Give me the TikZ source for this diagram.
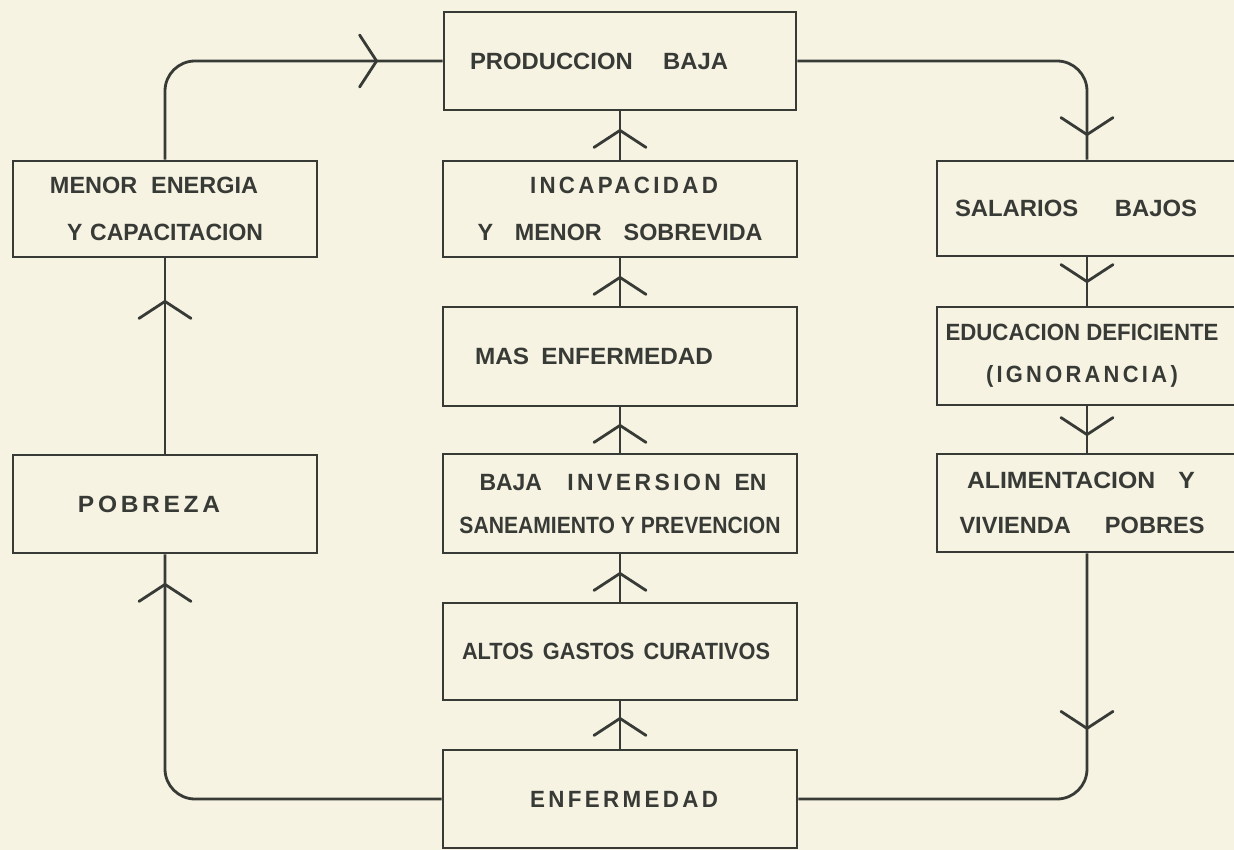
\documentclass[tikz,border=0pt]{standalone}
\usepackage{fontspec}
\setmainfont{Liberation Sans}
\newfontfamily\wideLS[LetterSpace=15]{Liberation Sans}
\usepackage{graphicx}
\usetikzlibrary{decorations.markings}
\definecolor{paper}{HTML}{F6F3E3}
\definecolor{ink}{HTML}{383A36}
% shifted, width-fitted text line
\newcommand\T[3]{\makebox[0pt][c]{\hspace*{#1pt}\hspace*{#1pt}\resizebox{#2pt}{\height}{#3}}}
\tikzset{
  box/.style={draw=ink, line width=2.8pt, rectangle, inner sep=0pt, text=ink,
    align=center, font=\fontsize{23.5}{27}\selectfont\bfseries},
  conn/.style={draw=ink, line width=2.8pt, rounded corners=30pt},
  chev/.style={postaction={decorate, decoration={markings,
    mark=at position #1 with {\draw[ink, line width=2.8pt, line cap=round, line join=round, sharp corners]
      (-17pt,26pt) -- (0pt,0pt) -- (-17pt,-26pt);}}}}
}
\begin{document}
\begin{tikzpicture}[x=1pt, y=-1pt]
\fill[paper] (0,0) rectangle (1234,850);
\useasboundingbox (0,0) rectangle (1234,850);

% centre column
\node[box, minimum width=352pt, minimum height=98pt] (prod) at (620,61)
  {\T{-21}{258}{PRODUCCION\hspace{30pt}BAJA}};
\node[box, minimum width=354pt, minimum height=96pt] (incap) at (620,209)
  {\T{4}{188}{\wideLS INCAPACIDAD}\\[20pt]\T{0}{285}{Y\hspace{22pt}MENOR\hspace{22pt}SOBREVIDA}};
\node[box, minimum width=354pt, minimum height=99pt] (mas) at (620,356.5)
  {\T{-26}{238}{MAS\hspace{12pt}ENFERMEDAD}};
\node[box, minimum width=354pt, minimum height=99pt] (baja) at (620,503.5)
  {\T{3}{287}{BAJA\hspace{26pt}{\wideLS INVERSION}\hspace{14pt}EN}\\[16pt]\T{0}{321}{SANEAMIENTO Y PREVENCION}};
\node[box, minimum width=354pt, minimum height=97pt] (altos) at (620,651.5)
  {\T{-4}{308}{ALTOS\hspace{10pt}GASTOS\hspace{10pt}CURATIVOS}};
\node[box, minimum width=354pt, minimum height=98pt] (enf) at (620,799)
  {\T{4}{188}{\wideLS ENFERMEDAD}};

% left column
\node[box, minimum width=304pt, minimum height=96pt] (menor) at (165,209)
  {\T{-11}{208}{MENOR\hspace{14pt}ENERGIA}\\[20pt]\T{0}{196}{Y\hspace{8pt}CAPACITACION}};
\node[box, minimum width=304pt, minimum height=98pt] (pobreza) at (165,504)
  {\T{-16}{142}{\wideLS POBREZA}};

% right column
\node[box, minimum width=300pt, minimum height=95pt] (salarios) at (1087,208.5)
  {\T{-11}{242}{SALARIOS\hspace{36pt}BAJOS}};
\node[box, minimum width=300pt, minimum height=98pt] (educ) at (1087,356)
  {\T{-5}{273}{EDUCACION DEFICIENTE}\\[15pt]\T{-5}{192}{\wideLS (IGNORANCIA\,)}};
\node[box, minimum width=300pt, minimum height=98pt] (alim) at (1087,503)
  {\T{-6}{228}{ALIMENTACION\hspace{22pt}Y}\\[18pt]\T{-5}{245}{VIVIENDA\hspace{34pt}POBRES}};

% outer loop
\draw[conn, chev=-30pt] (enf.west) -| (pobreza.south);
\draw[conn, chev=-43pt] (pobreza.north) -- (menor.south);
\draw[conn, chev=-66pt] (menor.north) |- (prod.west);
\draw[conn, chev=-25pt] (prod.east) -| (salarios.north);
\draw[conn, chev=-24pt] (salarios.south) -- (educ.north);
\draw[conn, chev=-18pt] (educ.south) -- (alim.north);
\draw[conn, chev=175pt] (alim.south) |- (enf.east);

% centre chain
\draw[conn, chev=-17pt] (enf.north) -- (altos.south);
\draw[conn, chev=-19pt] (altos.north) -- (baja.south);
\draw[conn, chev=-18pt] (baja.north) -- (mas.south);
\draw[conn, chev=-19pt] (mas.north) -- (incap.south);
\draw[conn, chev=-19pt] (incap.north) -- (prod.south);
\end{tikzpicture}
\end{document}
